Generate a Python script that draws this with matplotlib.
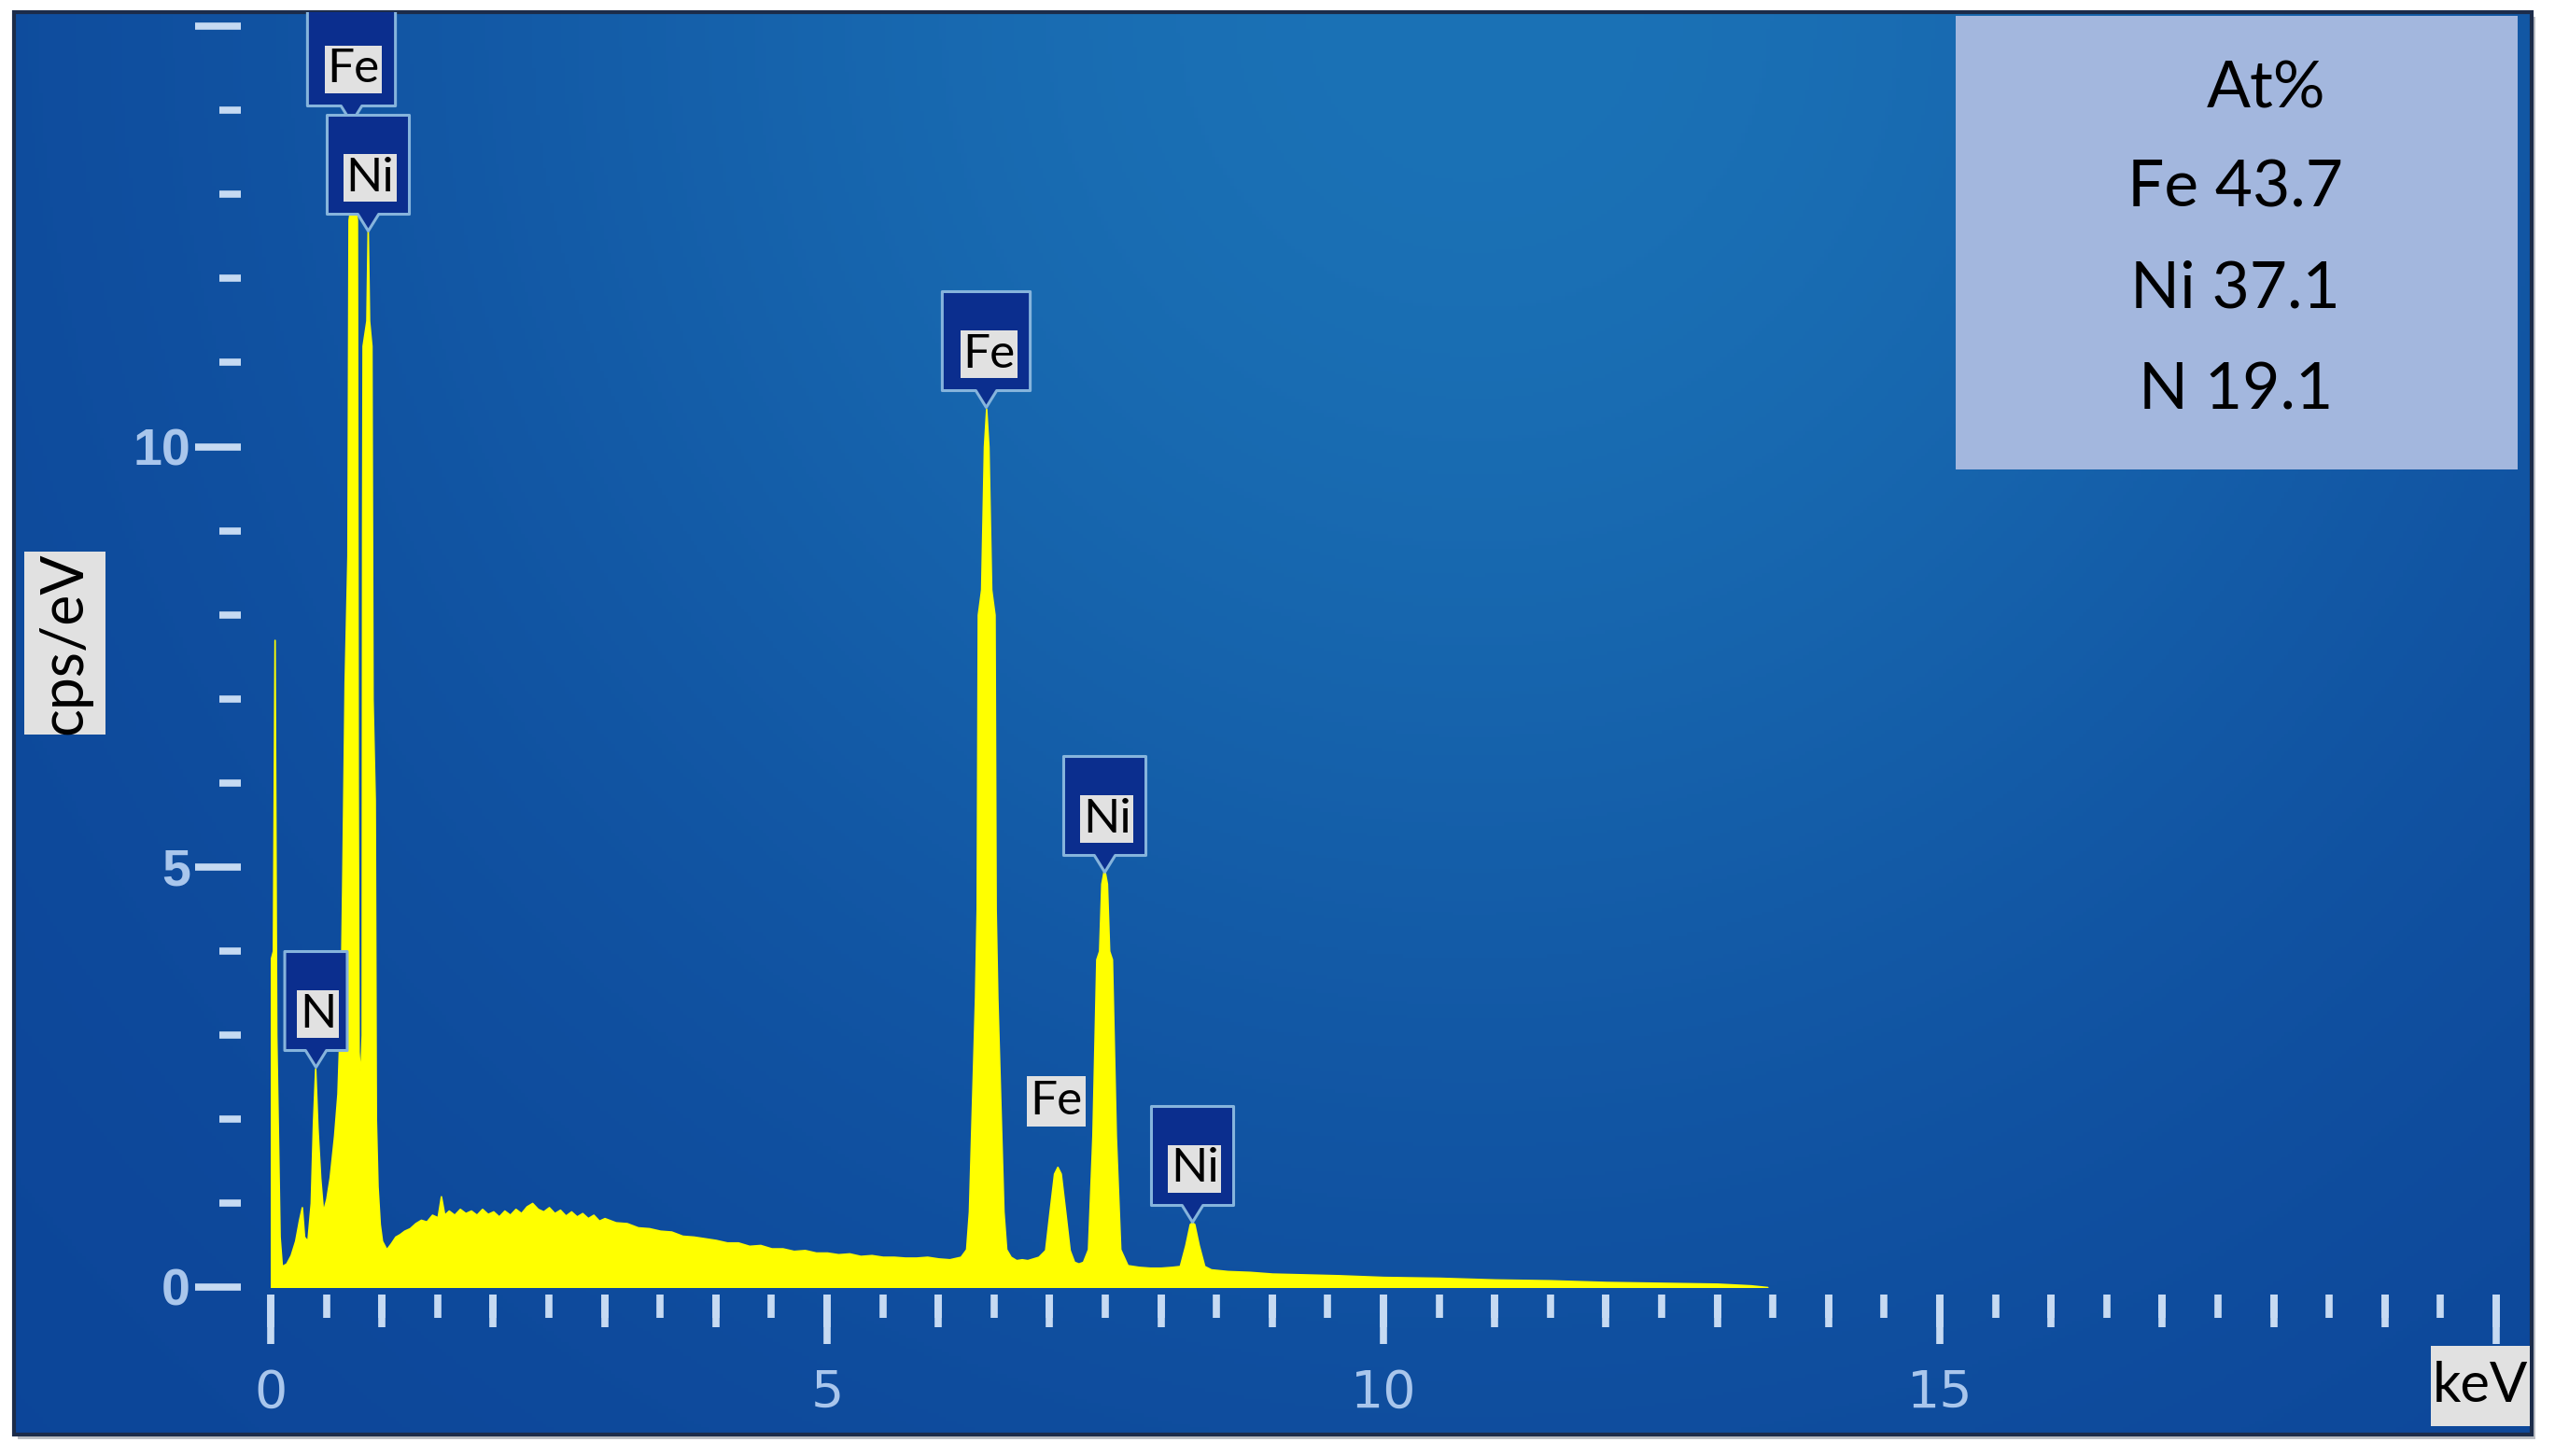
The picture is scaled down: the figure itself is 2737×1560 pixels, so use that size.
import numpy as np
import matplotlib
matplotlib.use('Agg')
import matplotlib.pyplot as plt
from matplotlib.patches import Rectangle
from matplotlib.markers import MarkerStyle
from matplotlib.path import Path
from matplotlib.ticker import FixedLocator

# EDS spectrum (keV, cps/eV)
energy_kev = [0.000, 0.020, 0.035, 0.050, 0.065, 0.080, 0.100, 0.140, 0.180, 0.220,
              0.255, 0.280, 0.300, 0.330, 0.360, 0.380, 0.400, 0.420, 0.445, 0.470,
              0.500, 0.530, 0.570, 0.600, 0.630, 0.645, 0.665, 0.690, 0.700, 0.735,
              0.740, 0.748, 0.775, 0.782, 0.790, 0.805, 0.818, 0.822, 0.826, 0.860,
              0.872, 0.884, 0.905, 0.915, 0.935, 0.945, 0.960, 0.980, 1.000, 1.040,
              1.080, 1.120, 1.160, 1.200, 1.250, 1.300, 1.350, 1.400, 1.450, 1.500,
              1.530, 1.560, 1.600, 1.650, 1.700, 1.750, 1.800, 1.850, 1.900, 1.950,
              2.000, 2.050, 2.100, 2.150, 2.200, 2.250, 2.300, 2.350, 2.400, 2.450,
              2.500, 2.550, 2.600, 2.650, 2.700, 2.750, 2.800, 2.850, 2.900, 2.950,
              3.000, 3.100, 3.200, 3.300, 3.400, 3.500, 3.600, 3.700, 3.800, 3.900,
              4.000, 4.100, 4.200, 4.300, 4.400, 4.500, 4.600, 4.700, 4.800, 4.900,
              5.000, 5.100, 5.200, 5.300, 5.400, 5.500, 5.600, 5.700, 5.800, 5.900,
              6.000, 6.100, 6.200, 6.250, 6.275, 6.330, 6.345, 6.355, 6.385, 6.410,
              6.430, 6.450, 6.475, 6.505, 6.515, 6.530, 6.585, 6.610, 6.650, 6.700,
              6.750, 6.800, 6.850, 6.900, 6.960, 7.000, 7.040, 7.070, 7.100, 7.140,
              7.180, 7.220, 7.260, 7.300, 7.345, 7.385, 7.420, 7.445, 7.465, 7.490,
              7.515, 7.535, 7.560, 7.595, 7.635, 7.700, 7.800, 7.900, 8.000, 8.100,
              8.170, 8.220, 8.260, 8.280, 8.300, 8.340, 8.390, 8.450, 8.600, 8.800,
              9.000, 9.300, 9.600, 10.00, 10.50, 11.00, 11.50, 12.00, 12.50, 13.00,
              13.30, 13.45]
cps_per_ev = [3.90, 4.00, 7.70, 3.00, 1.80, 0.60, 0.25, 0.28, 0.38, 0.55,
              0.80, 0.95, 0.60, 0.55, 1.00, 1.95, 2.60, 1.90, 1.30, 0.90,
              1.05, 1.30, 1.80, 2.30, 3.50, 5.00, 7.20, 8.70, 12.7, 13.0,
              15.6, 13.0, 12.7, 6.00, 2.80, 2.50, 3.00, 9.00, 11.2, 11.5,
              12.6, 11.5, 11.2, 7.00, 5.80, 2.00, 1.20, 0.75, 0.55, 0.45,
              0.52, 0.60, 0.63, 0.67, 0.70, 0.76, 0.80, 0.78, 0.86, 0.83,
              1.08, 0.86, 0.91, 0.86, 0.93, 0.88, 0.91, 0.86, 0.93, 0.87,
              0.90, 0.84, 0.91, 0.86, 0.93, 0.88, 0.96, 1.00, 0.93, 0.90,
              0.95, 0.88, 0.92, 0.85, 0.90, 0.84, 0.88, 0.82, 0.86, 0.79,
              0.82, 0.77, 0.76, 0.71, 0.70, 0.67, 0.66, 0.61, 0.60, 0.58,
              0.56, 0.53, 0.53, 0.49, 0.50, 0.46, 0.46, 0.43, 0.44, 0.41,
              0.41, 0.39, 0.40, 0.37, 0.38, 0.36, 0.36, 0.35, 0.35, 0.36,
              0.34, 0.33, 0.36, 0.45, 0.90, 3.45, 4.50, 8.00, 8.30, 10.0,
              10.45, 10.0, 8.30, 8.00, 4.50, 3.45, 0.90, 0.45, 0.36, 0.32,
              0.33, 0.32, 0.34, 0.36, 0.44, 0.90, 1.35, 1.43, 1.35, 0.90,
              0.44, 0.30, 0.28, 0.30, 0.45, 1.80, 3.90, 4.00, 4.80, 4.98,
              4.80, 4.00, 3.90, 1.80, 0.45, 0.26, 0.24, 0.23, 0.23, 0.24,
              0.25, 0.50, 0.75, 0.77, 0.75, 0.50, 0.25, 0.21, 0.19, 0.18,
              0.16, 0.15, 0.14, 0.12, 0.11, 0.09, 0.08, 0.06, 0.05, 0.04,
              0.02, 0.00]

# peak callouts: element, energy, height of pointer tip
callout_text = ['N', 'Fe', 'Ni', 'Fe', 'Ni', 'Ni']
callout_kev = [0.40, 0.72, 0.87, 6.43, 7.49, 8.28]
callout_tip = [2.62, 13.86, 12.57, 10.47, 4.94, 0.78]
# plain label without callout box (Fe K-beta)
plain_text = 'Fe'
plain_kev = 7.06
plain_cps = 2.21

# composition box
comp_title = 'At%'
comp_rows = ['Fe 43.7', 'Ni 37.1', 'N 19.1']

x_major = [0, 5, 10, 15, 20]
x_major_labels = ['0', '5', '10', '15', '']
y_major = [0, 5, 10, 15]
y_major_labels = ['0', '5', '10', '']

# colours
dark_blue = np.array([12, 68, 152]) / 255
light_blue = np.array([27, 114, 182]) / 255
tick_col = '#c6daf2'
ticklab_col = '#a9c6ec'
navy = '#0b2e8e'
callout_edge = '#86b4dc'
gray_box = '#e1e1e1'
legend_col = '#a3b7de'
yellow = '#ffff00'
txt_font = ['Lato', 'DejaVu Sans']

# half width of the callout box (fraction of callout height) per element
box_halfw = {'N': 0.27, 'Fe': 0.38, 'Ni': 0.355}


def callout_marker(half_w):
    # box with a small pointer; the pointer tip is the marker origin
    base, pw = 0.145, 0.09
    verts = [(0, 0), (pw, base), (half_w, base), (half_w, 1.0), (-half_w, 1.0),
             (-half_w, base), (-pw, base), (0, 0)]
    codes = [Path.MOVETO] + [Path.LINETO] * 6 + [Path.CLOSEPOLY]
    return MarkerStyle(Path(verts, codes), joinstyle='round')


fig = plt.figure(figsize=(27.37, 15.60), dpi=100)

# blue panel with a soft glow near the top
panel = [0.00548, 0.01474, 0.98539, 0.97693]
fig.add_artist(Rectangle((panel[0] + 0.0015, panel[1] - 0.003), panel[2], panel[3],
                         transform=fig.transFigure, fc='#7d838e', ec='none',
                         alpha=0.5, zorder=-3))
bg = fig.add_axes(panel, zorder=-2)
H, W = 400, 700
yy, xx = np.mgrid[0:1:H * 1j, 0:1:W * 1j]
glow = np.exp(-(((xx - 0.58) / 0.45) ** 2 + (yy / 0.8) ** 2))
img = dark_blue + (light_blue - dark_blue) * glow[..., None]
bg.imshow(img, extent=(0, 1, 0, 1), aspect='auto', origin='upper')
bg.set_xlim(0, 1)
bg.set_ylim(0, 1)
bg.axis('off')
bg.add_patch(Rectangle((0, 0), 1, 1, transform=bg.transAxes, fill=False,
                       ec='#1c2c4a', lw=3, clip_on=False))

# main axes
ax = fig.add_axes([0.10596, 0.11603, 0.87102, 0.87564])
ax.set_facecolor('none')
ax.set_xlim(0, 20)
ax.set_ylim(0, 15.17)
ax.spines['bottom'].set_position(('outward', 5.8))
ax.spines['left'].set_position(('outward', 23))
for s in ax.spines.values():
    s.set_visible(False)

ax.fill_between(energy_kev, 0, cps_per_ev, facecolor=yellow, edgecolor=yellow,
                lw=1.2, zorder=2)

ax.xaxis.set_major_locator(FixedLocator(x_major))
ax.set_xticklabels(x_major_labels)
ax.xaxis.set_minor_locator(FixedLocator(np.arange(0, 20.01, 0.5)))
ax.tick_params(axis='x', which='major', length=38, width=5.5, color=tick_col,
               pad=19, labelsize=40, labelcolor=ticklab_col)
ax.tick_params(axis='x', which='minor', length=18, width=5.5, color=tick_col)
for lab in ax.get_xticklabels():
    lab.set_family(['Liberation Sans Narrow', 'DejaVu Sans'])

ax.yaxis.set_major_locator(FixedLocator(y_major))
ax.set_yticklabels(y_major_labels)
ax.yaxis.set_minor_locator(FixedLocator(np.arange(0, 16, 1)))
ax.tick_params(axis='y', which='major', length=35, width=5.5, color=tick_col,
               pad=4, labelsize=40, labelcolor=ticklab_col)
ax.tick_params(axis='y', which='minor', length=16.5, width=5.5, color=tick_col)
for lab in ax.get_yticklabels():
    lab.set_family(['Liberation Sans', 'DejaVu Sans'])
    lab.set_weight('bold')

# integer keV ticks (medium length) on a twin axis
ax2 = ax.twiny()
ax2.set_xlim(0, 20)
ax2.patch.set_visible(False)
ax2.xaxis.set_ticks_position('bottom')
ax2.spines['bottom'].set_position(('outward', 5.8))
for s in ax2.spines.values():
    s.set_visible(False)
ax2.xaxis.set_major_locator(FixedLocator(np.arange(0, 21, 1)))
ax2.tick_params(axis='x', length=25, width=5.5, color=tick_col,
                labelbottom=False, labeltop=False)

# peak callouts
fs_lab = 37
callout_ms = 2 * 124 * 72 / 100   # total callout height 124 px
for name, kev, tip in zip(callout_text, callout_kev, callout_tip):
    ax.plot([kev], [tip], ls='none', marker=callout_marker(box_halfw[name]),
            ms=callout_ms, mfc=navy, mec=callout_edge, mew=2.2, zorder=5)
    inner = ax.annotate(name, xy=(kev, tip), xytext=(2, 22.3 + 0.05 * fs_lab),
                        textcoords='offset points', ha='center', va='bottom',
                        fontsize=fs_lab, family=txt_font, color='black', zorder=7,
                        bbox=dict(boxstyle='square,pad=0.05', fc=gray_box, ec='none'))
    inner.set_clip_box(ax.bbox)
    inner.set_clip_on(True)

ax.text(plain_kev, plain_cps, plain_text, ha='center', va='center', fontsize=fs_lab,
        family=txt_font, color='black', zorder=7,
        bbox=dict(boxstyle='square,pad=0.07', fc=gray_box, ec='none'))

# axis titles in grey boxes
fig.add_artist(Rectangle((0.0095, 0.4955), 0.0318, 0.1256, transform=fig.transFigure,
                         fc=gray_box, ec='none', zorder=3))
fig.text(0.0254, 0.5583, 'cps/eV', rotation=90, ha='center', va='center',
         fontsize=45, family=txt_font, color='black', zorder=4)
fig.add_artist(Rectangle((0.9514, 0.0205), 0.0387, 0.0551, transform=fig.transFigure,
                         fc=gray_box, ec='none', zorder=3))
fig.text(0.9708, 0.0481, 'keV', ha='center', va='center', fontsize=43,
         family=txt_font, color='black', zorder=4)

# composition box
fig.add_artist(Rectangle((0.7654, 0.6776), 0.2200, 0.3115, transform=fig.transFigure,
                         fc=legend_col, ec='none', zorder=5))
fig.text(0.8871, 0.9385, comp_title, ha='center', va='center', fontsize=50,
         family=txt_font, color='black', zorder=6)
for i, row in enumerate(comp_rows):
    fig.text(0.8750, 0.8705 - i * 0.0695, row, ha='center', va='center', fontsize=50,
             family=txt_font, color='black', zorder=6)

fig.savefig('out.png', dpi=100, facecolor='white')
